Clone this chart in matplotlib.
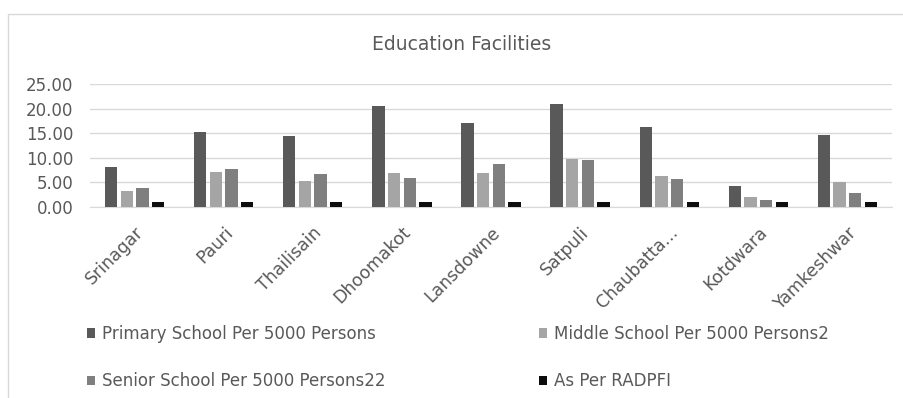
import numpy as np
import matplotlib.pyplot as plt
from matplotlib.patches import Rectangle

plt.rcParams['font.family'] = ['DejaVu Sans']

towns = ["Srinagar", "Pauri", "Thailisain", "Dhoomakot", "Lansdowne",
         "Satpuli", "Chaubatta...", "Kotdwara", "Yamkeshwar"]
primary = [8.2, 15.2, 14.4, 20.6, 17.0, 21.0, 16.3, 4.3, 14.7]
middle = [3.3, 7.1, 5.2, 6.8, 6.8, 9.8, 6.2, 2.0, 5.0]
senior = [3.9, 7.8, 6.6, 5.9, 8.8, 9.5, 5.6, 1.3, 2.9]
radpfi = [1.0, 1.0, 1.0, 1.0, 1.0, 1.0, 1.0, 1.0, 1.0]

series = [
    ("Primary School Per 5000 Persons", primary, "#595959"),
    ("Middle School Per 5000 Persons2", middle, "#a5a5a5"),
    ("Senior School Per 5000 Persons22", senior, "#7f7f7f"),
    ("As Per RADPFI", radpfi, "#0d0d0d"),
]

txt = "#595959"
grid = "#d9d9d9"

fig = plt.figure(figsize=(9.04, 3.98), dpi=100)
# chart frame
fig.patches.append(Rectangle((8 / 904, -0.05), 1.0, 1 - 14 / 398 + 0.05,
                             transform=fig.transFigure, fill=False,
                             edgecolor=grid, linewidth=1.0))

ax = fig.add_axes([90 / 904, 1 - 206.7 / 398, 802 / 904, (206.7 - 84.3) / 398])

x = np.arange(len(towns))
w = 0.138
step = 0.176
handles = []
for i, (name, vals, col) in enumerate(series):
    b = ax.bar(x + (i - 1.5) * step, vals, width=w, color=col, label=name, zorder=3)
    handles.append(b)

ax.set_xlim(-0.5, len(towns) - 0.5)
ax.set_ylim(0, 25)
ax.set_yticks(np.arange(0, 26, 5))
ax.set_yticklabels([f"{v:.2f}" for v in np.arange(0, 26, 5)])
ax.yaxis.grid(True, color=grid, linewidth=1.0, zorder=0)
ax.set_axisbelow(True)
for s in ["top", "right", "left"]:
    ax.spines[s].set_visible(False)
ax.spines["bottom"].set_color(grid)
ax.tick_params(axis="both", length=0, colors=txt, labelsize=12)
ax.tick_params(axis="y", pad=12)
ax.set_xticks(x)
ax.set_xticklabels(towns, rotation=45, ha="right", rotation_mode="anchor",
                   fontsize=12.5, color=txt)
ax.tick_params(axis="x", pad=12)

fig.text(0.511, 1 - 44 / 398, "Education Facilities", ha="center", va="center",
         fontsize=13.5, color=txt)

leg_kw = dict(frameon=False, handlelength=0.48, handleheight=0.48, handletextpad=0.45,
              labelspacing=1.75, fontsize=12, labelcolor=txt, loc="upper left",
              bbox_transform=fig.transFigure, borderaxespad=0, borderpad=0)
leg1 = fig.legend([handles[0], handles[2]], [series[0][0], series[2][0]],
                  bbox_to_anchor=(87 / 904, 1 - 325 / 398), **leg_kw)
leg2 = fig.legend([handles[1], handles[3]], [series[1][0], series[3][0]],
                  bbox_to_anchor=(539 / 904, 1 - 325 / 398), **leg_kw)

fig.savefig("out.png", dpi=100)
